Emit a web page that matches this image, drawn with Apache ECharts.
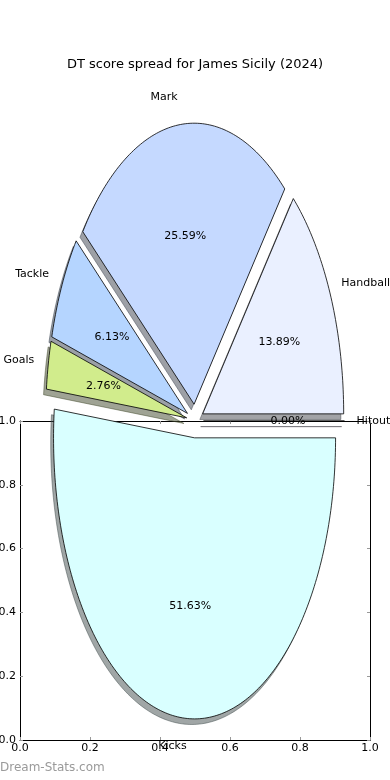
<!DOCTYPE html>
<html><head><meta charset="utf-8">
<script src="https://cdn.jsdelivr.net/npm/echarts@6/dist/echarts.min.js"></script>
<style>html,body{margin:0;padding:0;background:#fff}#c{width:390px;height:780px}</style>
</head><body><div id="c"></div>
<script>
const categories = ['Hitout', 'Handball', 'Mark', 'Tackle', 'Goals', 'Kicks'];
const percentages = [0.00, 13.89, 25.59, 6.13, 2.76, 51.63];
const tickLabels = ['0.0', '0.2', '0.4', '0.6', '0.8', '1.0'];

const sliceColors = ['#f0e6ff', '#eaf0ff', '#c5d9ff', '#b5d5ff', '#d1ec8c', '#d9ffff'];
const FONT = 'DejaVu Sans';
const CX = 0.5, CY = 1.0, RX = 0.4029, RY = 0.881, EXPLODE = 0.06, SHADOW = 0.02;

const total = percentages.reduce((a, b) => a + b, 0);
let acc = 0;
const angles = percentages.map(v => { const a0 = acc / total * 360; acc += v; return [a0, acc / total * 360]; });

function geom(i) {
  const [a0, a1] = angles[i];
  const mid = (a0 + a1) / 2 * Math.PI / 180;
  return { a0, a1, mid, cx: CX + EXPLODE * RX * Math.cos(mid), cy: CY + EXPLODE * RY * Math.sin(mid) };
}
function wedgePts(api, g, dx, dy) {
  const pts = [api.coord([g.cx + dx, g.cy + dy])];
  const n = Math.max(2, Math.ceil(g.a1 - g.a0));
  for (let k = 0; k <= n; k++) {
    const t = (g.a0 + (g.a1 - g.a0) * k / n) * Math.PI / 180;
    pts.push(api.coord([g.cx + dx + RX * Math.cos(t), g.cy + dy + RY * Math.sin(t)]));
  }
  return pts;
}
function shadowColor(hex) {
  const r = parseInt(hex.slice(1, 3), 16), g = parseInt(hex.slice(3, 5), 16), b = parseInt(hex.slice(5, 7), 16);
  return `rgba(${Math.round(r * 0.3)},${Math.round(g * 0.3)},${Math.round(b * 0.3)},0.5)`;
}

const seriesData = categories.map((c, i) => ({ name: c, value: [i / 10, percentages[i] / 100] }));
const tickVals = tickLabels.map(Number);

const axisCommon = {
  type: 'value', min: 0, max: 1, interval: 0.2,
  splitLine: { show: false },
  axisLine: { show: true, onZero: false, lineStyle: { color: '#000', width: 1 } },
  axisTick: { show: true, inside: true, length: 3, lineStyle: { color: '#999', width: 1 } }
};

const chart = echarts.init(document.getElementById('c'), null, { renderer: 'canvas' });
chart.setOption({
  animation: false,
  backgroundColor: '#fff',
  title: {
    text: 'DT score spread for James Sicily (2024)', left: 'center', top: 53,
    textStyle: { fontFamily: FONT, fontSize: 13, fontWeight: 'normal', color: '#000' }
  },
  grid: { left: 20, top: 421, width: 350, height: 319, containLabel: false, outerBoundsMode: 'none' },
  xAxis: [
    Object.assign({}, axisCommon, { position: 'bottom',
      axisLabel: { margin: 3, fontFamily: FONT, fontSize: 11, color: '#000', formatter: v => tickLabels[tickVals.indexOf(+v.toFixed(1))] } }),
    Object.assign({}, axisCommon, { position: 'top', axisLabel: { show: false } })
  ],
  yAxis: [
    Object.assign({}, axisCommon, { position: 'left',
      axisLabel: { margin: 4, fontFamily: FONT, fontSize: 11, color: '#000', formatter: v => tickLabels[tickVals.indexOf(+v.toFixed(1))] } }),
    Object.assign({}, axisCommon, { position: 'right', axisLabel: { show: false } })
  ],
  graphic: [{
    type: 'text', left: 0, top: 762, z: 100,
    style: { text: 'Dream-Stats.com', fill: '#9a9a9a', font: `12px ${FONT}` }
  }],
  series: [
    {
      type: 'custom', name: 'shadow', clip: false, z: 3,
      xAxisIndex: 0, yAxisIndex: 0, data: seriesData,
      renderItem(params, api) {
        const i = params.dataIndex, g = geom(i);
        const col = shadowColor(sliceColors[i]);
        return { type: 'polygon', shape: { points: wedgePts(api, g, -SHADOW * RX, -SHADOW * RY) },
          style: { fill: col, stroke: col, lineWidth: 1 } };
      }
    },
    {
      type: 'custom', name: 'wedges', clip: false, z: 4,
      xAxisIndex: 0, yAxisIndex: 0, data: seriesData,
      renderItem(params, api) {
        const i = params.dataIndex, g = geom(i);
        const c = Math.cos(g.mid), s = Math.sin(g.mid);
        const lc = api.coord([g.cx + 1.1 * RX * c, g.cy + 1.1 * RY * s]);
        const pc = api.coord([g.cx + 0.6 * RX * c, g.cy + 0.6 * RY * s]);
        const leftAligned = c > 1e-6;
        return { type: 'group', children: [
          { type: 'polygon', z2: 1, shape: { points: wedgePts(api, g, 0, 0) },
            style: { fill: sliceColors[i], stroke: '#000', lineWidth: 0.8 } },
          { type: 'text', z2: 20, x: lc[0] - (leftAligned ? 2 : 0), y: lc[1],
            style: { text: categories[i], fill: '#000', font: `11px ${FONT}`, align: leftAligned ? 'left' : (c < -1e-6 ? 'right' : 'center'), verticalAlign: 'middle' } },
          { type: 'text', z2: 20, x: pc[0], y: pc[1],
            style: { text: percentages[i].toFixed(2) + '%', fill: '#000', font: `11px ${FONT}`, align: 'center', verticalAlign: 'middle' } }
        ] };
      }
    }
  ]
});
</script></body></html>
